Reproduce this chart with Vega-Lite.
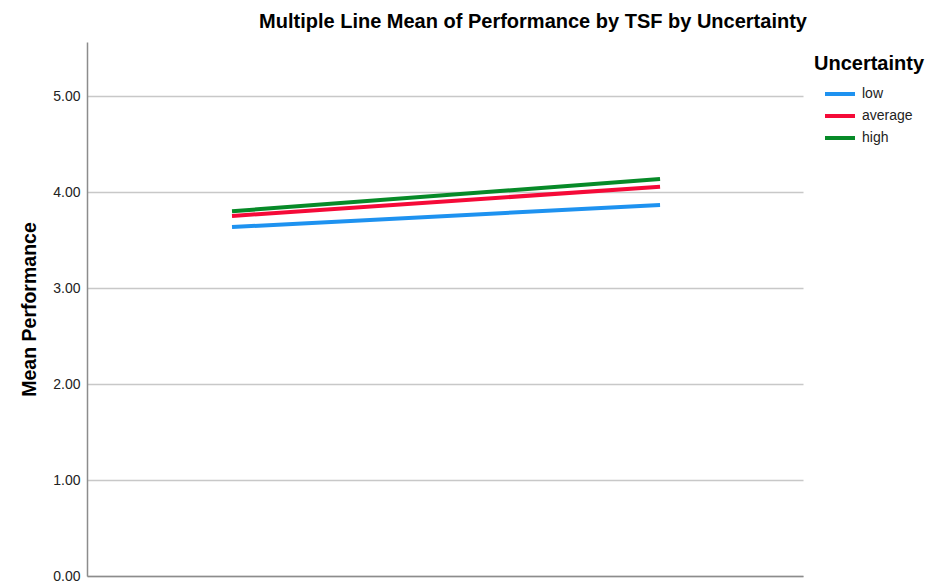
{
  "$schema": "https://vega.github.io/schema/vega-lite/v6.json",
  "width": 716,
  "height": 534,
  "autosize": {"type": "none"},
  "padding": {"left": 87, "top": 42, "right": 127, "bottom": 10},
  "background": "white",
  "title": {
    "text": "Multiple Line Mean of Performance by TSF by Uncertainty",
    "font": "Liberation Sans",
    "fontSize": 20,
    "fontWeight": "bold",
    "color": "#000000",
    "anchor": "middle",
    "dx": 88,
    "offset": 10
  },
  "data": {
    "values": [
      {"TSF": 1, "Uncertainty": "low", "Performance": 3.635},
      {"TSF": 2, "Uncertainty": "low", "Performance": 3.865},
      {"TSF": 1, "Uncertainty": "average", "Performance": 3.75},
      {"TSF": 2, "Uncertainty": "average", "Performance": 4.055},
      {"TSF": 1, "Uncertainty": "high", "Performance": 3.80},
      {"TSF": 2, "Uncertainty": "high", "Performance": 4.135}
    ]
  },
  "mark": {"type": "line", "strokeWidth": 4, "strokeCap": "butt"},
  "encoding": {
    "x": {
      "field": "TSF",
      "type": "quantitative",
      "scale": {"domain": [0.6612, 2.334], "nice": false, "zero": false},
      "axis": {
        "title": null,
        "labels": false,
        "ticks": false,
        "grid": false,
        "domainColor": "#8c8c8c",
        "domainWidth": 1.5
      }
    },
    "y": {
      "field": "Performance",
      "type": "quantitative",
      "scale": {"domain": [0, 5.5625], "nice": false, "zero": true},
      "axis": {
        "title": "Mean Performance",
        "titleFont": "Liberation Sans",
        "titleFontSize": 19.5,
        "titleFontWeight": "bold",
        "titleColor": "#000000",
        "titlePadding": 13,
        "values": [0, 1, 2, 3, 4, 5],
        "format": ".2f",
        "labelFont": "Liberation Sans",
        "labelFontSize": 14,
        "labelColor": "#222222",
        "labelPadding": 7,
        "ticks": false,
        "tickSize": 0,
        "grid": true,
        "gridColor": "#c8c8c8",
        "gridWidth": 1.5,
        "domainColor": "#8c8c8c",
        "domainWidth": 1.5
      }
    },
    "color": {
      "field": "Uncertainty",
      "type": "nominal",
      "sort": ["low", "average", "high"],
      "scale": {
        "domain": ["low", "average", "high"],
        "range": ["#1e92f0", "#f50a38", "#078a28"]
      },
      "legend": {
        "orient": "none",
        "legendX": 727,
        "legendY": 12,
        "padding": 0,
        "title": "Uncertainty",
        "titleFont": "Liberation Sans",
        "titleFontSize": 20,
        "titleFontWeight": "bold",
        "titleColor": "#000000",
        "titlePadding": 7,
        "labelFont": "Liberation Sans",
        "labelFontSize": 14,
        "labelColor": "#222222",
        "labelOffset": 9,
        "symbolType": "M-1.364,0H1.364",
        "symbolSize": 484,
        "symbolStrokeWidth": 4,
        "symbolOffset": 13,
        "rowPadding": 1
      }
    }
  },
  "config": {
    "view": {"stroke": null}
  }
}
